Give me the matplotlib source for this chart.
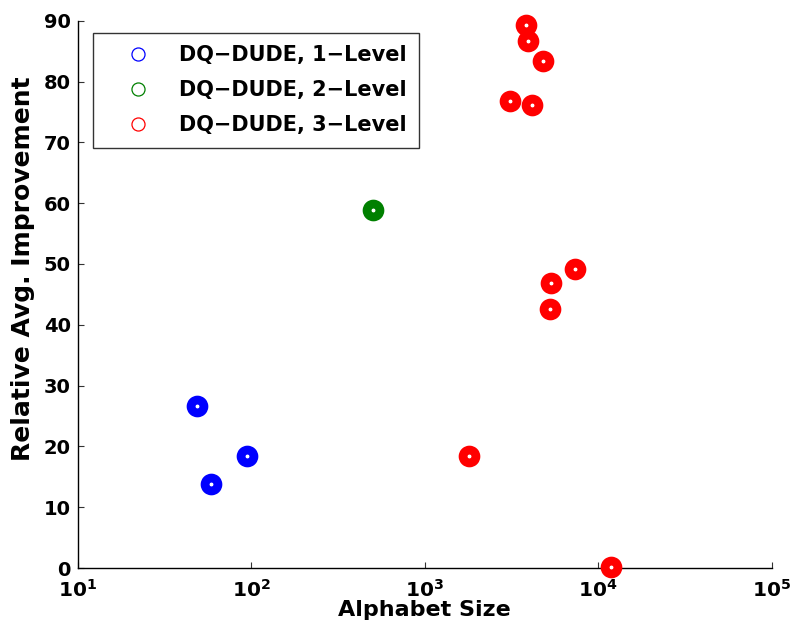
import numpy as np
import matplotlib
matplotlib.use("Agg")
import matplotlib.pyplot as plt
from matplotlib.lines import Line2D

# alphabet size vs relative average improvement, one series per level
size_1 = [49, 95, 59]
gain_1 = [26.6, 18.4, 13.8]

size_2 = [501]
gain_2 = [58.8]

size_3 = [3850, 3930, 4810, 3090, 4170, 7350, 5330, 5300, 1810, 11860]
gain_3 = [89.3, 86.7, 83.3, 76.8, 76.1, 49.2, 46.9, 42.6, 18.4, 0.1]

labels = ['DQ\u2212DUDE, 1\u2212Level', 'DQ\u2212DUDE, 2\u2212Level', 'DQ\u2212DUDE, 3\u2212Level']
colors = ['#0000ff', '#008000', '#ff0000']
xticks = [1e1, 1e2, 1e3, 1e4, 1e5]
yticks = [0, 10, 20, 30, 40, 50, 60, 70, 80, 90]

plt.rcParams['font.family'] = ['DejaVu Sans']
plt.rcParams['font.weight'] = 'bold'
plt.rcParams['mathtext.fontset'] = 'dejavusans'

fig = plt.figure(figsize=(7.93, 6.28), dpi=100)
ax = fig.add_axes([77.7 / 793, 1 - 568 / 628, 694 / 793, 547.3 / 628])

for xs, ys, c in zip([size_1, size_2, size_3], [gain_1, gain_2, gain_3], colors):
    ax.plot(xs, ys, linestyle='none', marker='o', ms=9.3, mew=6.3,
            mfc='white', mec=c, clip_on=False, zorder=3)

ax.set_xscale('log')
ax.set_xlim(1e1, 1e5)
ax.set_ylim(0, 90)
ax.set_xticks(xticks)
ax.set_xticklabels([r'$\mathbf{10^{%d}}$' % int(np.log10(t)) for t in xticks], fontsize=14.5)
ax.xaxis.set_minor_locator(matplotlib.ticker.NullLocator())
ax.set_yticks(yticks)
ax.set_yticklabels([str(t) for t in yticks], fontsize=14)

ax.spines['top'].set_visible(False)
ax.spines['right'].set_visible(False)
for s in ['left', 'bottom']:
    ax.spines[s].set_linewidth(1.0)
ax.tick_params(direction='in', length=4.3, width=0.8, color='#333333')
ax.tick_params(axis='y', pad=5)
ax.tick_params(axis='x', pad=8)

ax.set_xlabel('Alphabet Size', fontsize=16, fontweight='bold', labelpad=-1)
ax.set_ylabel('Relative Avg. Improvement', fontsize=18, fontweight='bold')
ax.yaxis.set_label_coords(-0.0615, 0.546)

handles = [Line2D([], [], linestyle='none', marker='o', ms=9.4, mew=0.9,
                  mfc='none', mec=c) for c in colors]
leg = ax.legend(handles, labels, loc='upper left',
                bbox_to_anchor=(93 / 793, 1 - 32.7 / 628), bbox_transform=fig.transFigure,
                fontsize=15.0, frameon=True, fancybox=False, edgecolor='black',
                borderpad=0.6, labelspacing=0.72, handlelength=3.1, handletextpad=0.42,
                borderaxespad=0)
leg.get_frame().set_linewidth(1.0)
for t in leg.get_texts():
    t.set_fontweight('bold')

fig.savefig('out.png', dpi=100)
